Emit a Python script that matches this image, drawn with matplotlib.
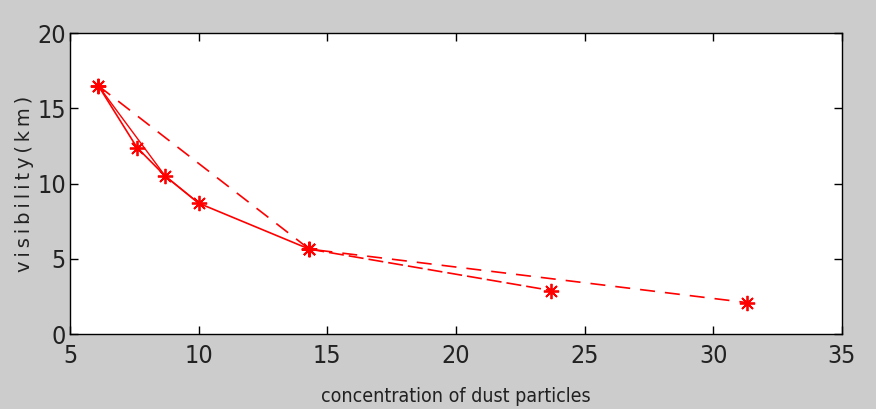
import matplotlib
matplotlib.use("Agg")
import matplotlib.pyplot as plt

# concentration of dust particles vs visibility (km)
conc_a = [6.1, 7.6, 8.7, 10.0, 14.3]
vis_a = [16.5, 12.4, 10.5, 8.7, 5.65]

conc_b = [6.1, 8.7, 10.0]
vis_b = [16.5, 10.5, 8.7]

conc_c = [6.1, 14.3, 31.3]
vis_c = [16.5, 5.65, 2.1]

conc_d = [14.3, 23.7]
vis_d = [5.65, 2.9]

xticks = [5, 10, 15, 20, 25, 30, 35]
yticks = [0, 5, 10, 15, 20]

star = (8, 2, 0)  # matlab-ish asterisk

plt.rcParams["font.stretch"] = "condensed"

fig = plt.figure(figsize=(8.76, 4.09), dpi=100, facecolor="#cccccc")
ax = fig.add_axes([0.080, 0.183, 0.881, 0.736])
ax.set_facecolor("white")

ax.plot(conc_a, vis_a, color="red", lw=1.2, marker=star, ms=11, mew=1.3)
ax.plot(conc_b, vis_b, color="red", lw=1.0)
ax.plot(conc_c, vis_c, color="red", lw=1.2, ls=(0, (9, 6)), marker=star, ms=11, mew=1.3)
ax.plot(conc_d, vis_d, color="red", lw=1.2, ls=(0, (9, 3)), marker=star, ms=11, mew=1.3)

ax.set_xlim(5, 35)
ax.set_ylim(0, 20)
ax.set_xticks(xticks)
ax.set_yticks(yticks)
ax.tick_params(direction="in", top=True, right=True, length=6, width=1,
               labelsize=18, labelcolor="#222222")
ax.tick_params(axis="x", pad=7)
ax.tick_params(axis="y", pad=3)
for s in ax.spines.values():
    s.set_linewidth(1)

ax.set_xlabel("concentration of dust particles", fontsize=14, labelpad=14, color="#222222")
ax.set_ylabel("v\u2009i\u2009s\u2009i\u2009b\u2009i\u2009l\u2009i\u2009t\u2009y\u2009(\u2009k\u2009m\u2009)",
              fontsize=14, labelpad=2, fontstretch="normal", color="#222222")

fig.savefig("out.png", dpi=100, facecolor=fig.get_facecolor())
